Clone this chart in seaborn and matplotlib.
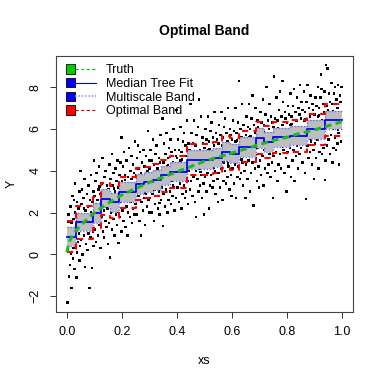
import matplotlib
matplotlib.use("Agg")
import matplotlib.pyplot as plt
from matplotlib.patches import Rectangle
from matplotlib.lines import Line2D
from matplotlib.legend_handler import HandlerBase
import seaborn as sns
import pandas as pd
import numpy as np

# step breakpoints of the tree fit and bands (on a 1/32 grid)
breaks = [0, 0.03125, 0.09375, 0.125, 0.15625, 0.1875, 0.25, 0.28125, 0.3125, 0.34375,
          0.375, 0.4375, 0.53125, 0.5625, 0.59375, 0.625, 0.6875, 0.71875, 0.75, 0.8125,
          0.875, 0.9375, 1.0]
median_fit = [0.83, 1.53, 2.0, 2.66, 2.49, 2.98, 3.36, 3.45, 3.57, 3.78, 3.95, 4.53, 4.63,
              4.9, 4.8, 5.15, 5.58, 5.38, 5.6, 5.68, 5.98, 6.42]
multi_lo = [0.4, 1.1, 1.5, 2.25, 2.05, 2.5, 2.88, 2.98, 3.1, 3.3, 3.5, 4.1, 4.18, 4.45,
            4.35, 4.68, 5.1, 4.92, 5.15, 5.22, 5.5, 5.98]
multi_hi = [1.3, 1.98, 2.47, 3.15, 2.95, 3.45, 3.85, 3.93, 4.05, 4.25, 4.42, 5.0, 5.1, 5.37,
            5.27, 5.62, 6.05, 5.85, 6.07, 6.15, 6.45, 6.88]
opt_lo = [0.1, 0.75, 1.25, 1.9, 1.75, 2.2, 2.6, 2.7, 2.8, 3.0, 3.2, 3.78, 3.9, 4.15, 4.05,
          4.4, 4.82, 4.62, 4.85, 4.92, 5.22, 5.68]
opt_hi = [1.58, 2.3, 2.75, 3.42, 3.25, 3.72, 4.12, 4.2, 4.32, 4.53, 4.7, 5.28, 5.38, 5.65,
          5.55, 5.9, 6.33, 6.13, 6.35, 6.42, 6.72, 7.2]

# truth curve read at a few x positions
truth_x = [0, 0.005, 0.01, 0.02, 0.03, 0.05, 0.075, 0.1, 0.15, 0.2, 0.25, 0.3, 0.35, 0.4,
           0.45, 0.5, 0.55, 0.6, 0.65, 0.7, 0.75, 0.8, 0.85, 0.9, 0.95, 1.0]
truth_y = [0.1, 0.45, 0.65, 0.9, 1.1, 1.4, 1.7, 2.0, 2.45, 2.85, 3.15, 3.45, 3.7, 3.95,
           4.2, 4.45, 4.65, 4.85, 5.05, 5.25, 5.45, 5.6, 5.8, 5.95, 6.15, 6.35]

sample_points = [
    (0.002,-2.3),(0.004,0.2),(0.006,1.9),(0.008,-1.05),(0.010,1.2),(0.011,-0.5),(0.013,2.3),(0.014,0.6),
    (0.016,-1.6),(0.017,1.5),(0.019,0.9),(0.020,2.8),(0.021,-0.2),(0.023,1.7),(0.024,0.3),(0.026,1.1),
    (0.027,-0.7),(0.029,2.0),(0.030,3.4),(0.031,0.8),(0.033,1.4),(0.034,-1.1),(0.036,2.5),(0.037,0.1),
    (0.039,1.8),(0.040,0.6),(0.042,2.2),(0.043,1.0),(0.045,-0.3),(0.046,3.0),(0.047,1.3),(0.048,0.4),
    (0.049,4.0),(0.005,1.55),(0.015,0.05),(0.025,2.6),(0.035,1.15),(0.044,1.6),
    (0.051,0.7),(0.052,2.4),(0.054,1.2),(0.055,3.1),(0.057,0.0),(0.058,1.9),(0.060,2.7),(0.061,0.9),
    (0.063,1.5),(0.064,3.6),(0.066,-0.6),(0.067,2.1),(0.069,1.3),(0.070,0.5),(0.072,2.9),(0.073,1.8),
    (0.075,0.2),(0.076,2.3),(0.078,3.3),(0.079,1.0),(0.081,1.6),(0.082,-1.6),(0.084,2.6),(0.085,0.8),
    (0.087,2.0),(0.088,3.8),(0.090,1.4),(0.091,-0.65),(0.093,2.5),(0.094,1.1),(0.096,3.0),(0.097,0.4),
    (0.099,4.5),(0.098,1.9),(0.062,2.2),(0.086,1.7),
    (0.101,2.8),(0.102,1.2),(0.104,3.5),(0.105,0.6),(0.107,2.2),(0.108,3.9),(0.110,1.7),(0.111,2.6),
    (0.113,0.9),(0.114,3.1),(0.116,2.0),(0.117,4.2),(0.119,1.4),(0.120,2.9),(0.122,0.3),(0.123,2.4),
    (0.125,3.4),(0.126,1.8),(0.128,2.7),(0.129,4.6),(0.131,1.1),(0.132,3.0),(0.134,2.1),(0.135,0.8),
    (0.137,3.7),(0.138,2.5),(0.140,1.6),(0.141,4.0),(0.143,2.9),(0.144,1.3),(0.146,3.3),(0.147,2.2),
    (0.149,0.5),(0.148,2.65),(0.118,3.25),
    (0.151,3.1),(0.152,1.5),(0.154,4.3),(0.155,2.4),(0.157,-0.15),(0.158,3.6),(0.160,2.0),(0.161,2.9),
    (0.163,1.2),(0.164,4.8),(0.166,3.3),(0.167,2.2),(0.169,1.7),(0.170,3.9),(0.172,2.6),(0.173,0.9),
    (0.175,3.0),(0.176,4.1),(0.178,1.9),(0.179,2.7),(0.181,3.5),(0.182,1.4),(0.184,4.5),(0.185,2.3),
    (0.187,3.2),(0.188,0.55),(0.190,2.8),(0.191,3.8),(0.193,1.8),(0.194,4.4),(0.196,2.5),(0.197,3.4),
    (0.199,5.6),(0.198,1.1),(0.171,3.15),(0.186,2.05),
    (0.201,3.5),(0.202,2.1),(0.204,4.2),(0.205,1.6),(0.207,3.0),(0.208,4.9),(0.210,2.6),(0.211,3.8),
    (0.213,1.3),(0.214,2.9),(0.216,4.5),(0.217,2.3),(0.219,3.4),(0.220,0.9),(0.222,3.7),(0.223,2.0),
    (0.225,5.1),(0.226,2.7),(0.228,3.2),(0.229,1.8),(0.231,4.0),(0.232,2.5),(0.234,3.6),(0.235,4.7),
    (0.237,1.5),(0.238,3.1),(0.240,2.2),(0.241,4.3),(0.243,2.8),(0.244,3.9),(0.246,1.9),(0.247,5.4),
    (0.249,3.3),(0.248,2.4),(0.212,3.55),(0.236,2.95),
    (0.251,3.8),(0.252,2.4),(0.254,4.6),(0.255,1.9),(0.257,3.3),(0.258,5.2),(0.260,2.8),(0.261,4.1),
    (0.263,3.6),(0.264,1.6),(0.266,4.9),(0.267,3.0),(0.269,0.9),(0.270,3.9),(0.272,2.5),(0.273,4.4),
    (0.275,3.2),(0.276,2.1),(0.278,5.0),(0.279,3.5),(0.281,2.7),(0.282,4.2),(0.284,1.4),(0.285,3.7),
    (0.287,2.9),(0.288,4.7),(0.290,3.1),(0.291,2.3),(0.293,4.0),(0.294,5.9),(0.296,2.6),(0.297,3.4),
    (0.299,4.5),(0.298,2.0),(0.268,3.45),(0.283,2.95),
    (0.301,4.1),(0.302,2.7),(0.304,5.0),(0.305,3.3),(0.307,2.0),(0.308,4.5),(0.310,3.6),(0.311,2.9),
    (0.313,5.5),(0.314,3.9),(0.316,1.6),(0.317,4.3),(0.319,3.1),(0.320,2.4),(0.322,4.8),(0.323,3.7),
    (0.325,2.8),(0.326,5.2),(0.328,3.4),(0.329,4.1),(0.331,2.2),(0.332,3.9),(0.334,4.6),(0.335,3.0),
    (0.337,1.9),(0.338,4.4),(0.340,3.5),(0.341,5.7),(0.343,2.6),(0.344,4.0),(0.346,3.2),(0.347,6.5),
    (0.349,1.35),(0.348,3.8),(0.318,3.55),(0.336,2.45),
    (0.351,4.4),(0.352,2.9),(0.354,5.3),(0.355,3.6),(0.357,2.3),(0.358,4.8),(0.360,3.9),(0.361,3.1),
    (0.363,5.8),(0.364,4.2),(0.366,2.0),(0.367,4.6),(0.369,3.4),(0.370,2.6),(0.372,5.1),(0.373,3.8),
    (0.375,3.0),(0.376,5.5),(0.378,4.1),(0.379,2.4),(0.381,4.9),(0.382,3.5),(0.384,2.8),(0.385,4.4),
    (0.387,6.0),(0.388,3.2),(0.390,4.0),(0.391,2.1),(0.393,5.0),(0.394,3.7),(0.396,4.7),(0.397,2.7),
    (0.399,6.9),(0.398,3.95),(0.368,4.25),(0.386,3.3),
    (0.401,4.6),(0.402,3.2),(0.404,5.5),(0.405,3.9),(0.407,2.5),(0.408,5.0),(0.410,4.2),(0.411,3.4),
    (0.413,6.1),(0.414,4.5),(0.416,2.2),(0.417,4.9),(0.419,3.7),(0.420,2.9),(0.422,5.4),(0.423,4.1),
    (0.425,3.3),(0.426,5.8),(0.428,4.3),(0.429,2.7),(0.431,5.2),(0.432,3.8),(0.434,3.0),(0.435,4.7),
    (0.437,6.4),(0.438,3.5),(0.440,4.4),(0.441,2.4),(0.443,5.3),(0.444,4.0),(0.446,5.0),(0.447,3.1),
    (0.449,7.2),(0.448,4.25),(0.418,4.55),(0.436,3.6),
    (0.451,4.9),(0.452,3.5),(0.454,5.8),(0.455,4.2),(0.457,2.8),(0.458,5.3),(0.460,4.5),(0.461,3.7),
    (0.463,6.4),(0.464,4.8),(0.466,2.5),(0.467,5.2),(0.469,4.0),(0.470,1.8),(0.472,5.7),(0.473,4.4),
    (0.475,3.6),(0.476,6.1),(0.478,4.6),(0.479,3.0),(0.481,7.4),(0.482,4.1),(0.484,3.3),(0.485,5.0),
    (0.487,6.6),(0.488,3.8),(0.490,4.7),(0.491,2.7),(0.493,5.6),(0.494,4.3),(0.496,5.3),(0.497,3.4),
    (0.499,1.9),(0.498,4.55),(0.468,4.85),(0.486,3.95),
    (0.501,5.1),(0.502,3.7),(0.504,6.0),(0.505,4.4),(0.507,3.0),(0.508,5.5),(0.510,4.7),(0.511,3.9),
    (0.513,6.6),(0.514,5.0),(0.516,2.2),(0.517,5.4),(0.519,4.2),(0.520,3.3),(0.522,5.9),(0.523,4.6),
    (0.525,3.8),(0.526,6.3),(0.528,4.8),(0.529,3.2),(0.531,5.6),(0.532,4.3),(0.534,3.5),(0.535,5.2),
    (0.537,6.8),(0.538,4.0),(0.540,4.9),(0.541,2.9),(0.543,5.8),(0.544,4.5),(0.546,5.5),(0.547,3.6),
    (0.549,2.5),(0.548,4.75),(0.518,5.05),(0.536,4.15),
    (0.551,5.3),(0.552,3.9),(0.554,6.2),(0.555,4.6),(0.557,3.2),(0.558,5.7),(0.560,4.9),(0.561,4.1),
    (0.563,6.8),(0.564,5.2),(0.566,2.6),(0.567,5.6),(0.569,4.4),(0.570,3.5),(0.572,6.1),(0.573,4.8),
    (0.575,4.0),(0.576,6.5),(0.578,5.0),(0.579,3.4),(0.581,5.8),(0.582,4.5),(0.584,3.7),(0.585,5.4),
    (0.587,7.0),(0.588,4.2),(0.590,5.1),(0.591,3.1),(0.593,6.0),(0.594,4.7),(0.596,5.7),(0.597,3.8),
    (0.599,2.8),(0.598,4.95),(0.568,5.25),(0.586,4.35),
    (0.601,5.5),(0.602,4.1),(0.604,6.4),(0.605,4.8),(0.607,3.4),(0.608,5.9),(0.610,5.1),(0.611,4.3),
    (0.613,7.0),(0.614,5.4),(0.616,2.7),(0.617,5.8),(0.619,4.6),(0.620,3.7),(0.622,6.3),(0.623,5.0),
    (0.625,4.2),(0.626,8.3),(0.628,5.2),(0.629,3.6),(0.631,6.0),(0.632,4.7),(0.634,3.9),(0.635,5.6),
    (0.637,7.2),(0.638,4.4),(0.640,5.3),(0.641,3.3),(0.643,6.2),(0.644,4.9),(0.646,5.9),(0.647,4.0),
    (0.649,2.7),(0.648,5.15),(0.618,5.45),(0.636,4.55),
    (0.651,5.7),(0.652,4.3),(0.654,6.6),(0.655,5.0),(0.657,3.6),(0.658,6.1),(0.660,5.3),(0.661,4.5),
    (0.663,7.2),(0.664,5.6),(0.666,3.0),(0.667,6.0),(0.669,4.8),(0.670,3.9),(0.672,6.5),(0.673,5.2),
    (0.675,4.4),(0.676,7.6),(0.678,5.4),(0.679,2.35),(0.681,6.2),(0.682,4.9),(0.684,4.1),(0.685,5.8),
    (0.687,7.0),(0.688,4.6),(0.690,5.5),(0.691,3.5),(0.693,6.4),(0.694,5.1),(0.696,6.1),(0.697,4.2),
    (0.699,3.2),(0.698,5.35),(0.668,5.65),(0.686,4.75),
    (0.701,5.9),(0.702,4.5),(0.704,6.8),(0.705,5.2),(0.707,3.8),(0.708,6.3),(0.710,5.5),(0.711,4.7),
    (0.713,7.4),(0.714,5.8),(0.716,3.3),(0.717,6.2),(0.719,5.0),(0.720,4.1),(0.722,6.7),(0.723,5.4),
    (0.725,4.6),(0.726,8.0),(0.728,5.6),(0.729,3.9),(0.731,6.4),(0.732,5.1),(0.734,4.3),(0.735,6.0),
    (0.737,7.2),(0.738,4.8),(0.740,5.7),(0.741,3.7),(0.743,6.6),(0.744,5.3),(0.746,6.3),(0.747,4.4),
    (0.749,2.7),(0.748,5.55),(0.718,5.85),(0.736,4.95),
    (0.751,6.1),(0.752,4.7),(0.754,8.5),(0.755,5.4),(0.757,4.0),(0.758,6.5),(0.760,5.7),(0.761,4.9),
    (0.763,7.5),(0.764,6.0),(0.766,3.5),(0.767,6.4),(0.769,5.2),(0.770,4.3),(0.772,6.9),(0.773,5.6),
    (0.775,4.8),(0.776,7.8),(0.778,5.8),(0.779,4.1),(0.781,6.6),(0.782,5.3),(0.784,8.3),(0.785,6.2),
    (0.787,7.3),(0.788,5.0),(0.790,5.9),(0.791,3.9),(0.793,6.8),(0.794,5.5),(0.796,6.5),(0.797,4.6),
    (0.799,3.0),(0.798,5.75),(0.768,6.05),(0.786,5.15),
    (0.801,6.3),(0.802,4.9),(0.804,7.1),(0.805,5.6),(0.807,4.2),(0.808,6.7),(0.810,5.9),(0.811,5.1),
    (0.813,7.7),(0.814,6.2),(0.816,3.7),(0.817,6.6),(0.819,5.4),(0.820,4.5),(0.822,7.1),(0.823,5.8),
    (0.825,5.0),(0.826,7.9),(0.828,6.0),(0.829,3.5),(0.831,6.8),(0.832,5.5),(0.834,4.7),(0.835,6.4),
    (0.837,7.5),(0.838,5.2),(0.840,6.1),(0.841,4.1),(0.843,7.0),(0.844,5.7),(0.846,6.7),(0.847,4.8),
    (0.849,8.1),(0.848,5.95),(0.818,6.25),(0.836,5.35),
    (0.851,6.5),(0.852,5.1),(0.854,7.3),(0.855,5.8),(0.857,4.4),(0.858,6.9),(0.860,6.1),(0.861,5.3),
    (0.863,7.8),(0.864,6.4),(0.866,3.9),(0.867,6.8),(0.869,5.6),(0.870,2.65),(0.872,7.3),(0.873,6.0),
    (0.875,5.2),(0.876,8.1),(0.878,6.2),(0.879,4.6),(0.881,7.0),(0.882,5.7),(0.884,4.9),(0.885,6.6),
    (0.887,7.6),(0.888,5.4),(0.890,6.3),(0.891,4.3),(0.893,7.2),(0.894,5.9),(0.896,6.9),(0.897,5.0),
    (0.899,3.6),(0.898,6.15),(0.868,6.45),(0.886,5.55),
    (0.901,6.7),(0.902,5.3),(0.904,7.5),(0.905,6.0),(0.907,4.6),(0.908,7.1),(0.910,6.3),(0.911,5.5),
    (0.913,8.0),(0.914,6.6),(0.916,4.1),(0.917,7.0),(0.919,5.8),(0.920,4.9),(0.922,7.5),(0.923,6.2),
    (0.925,8.6),(0.926,7.9),(0.928,6.4),(0.929,4.8),(0.931,7.2),(0.932,5.9),(0.934,5.1),(0.935,6.8),
    (0.937,7.8),(0.938,5.6),(0.940,3.55),(0.941,4.5),(0.943,9.05),(0.944,6.1),(0.946,7.1),(0.947,5.2),
    (0.949,8.9),(0.948,6.35),(0.918,6.65),(0.936,5.75),
    (0.951,6.9),(0.952,5.5),(0.954,7.7),(0.955,6.2),(0.957,4.8),(0.958,7.3),(0.960,6.5),(0.961,5.7),
    (0.963,8.2),(0.964,6.8),(0.966,4.4),(0.967,7.2),(0.969,6.0),(0.970,5.1),(0.972,7.7),(0.973,6.4),
    (0.975,5.6),(0.976,8.0),(0.978,6.6),(0.979,5.0),(0.981,7.4),(0.982,6.1),(0.984,5.3),(0.985,7.0),
    (0.987,8.1),(0.988,5.8),(0.990,6.7),(0.991,4.3),(0.993,7.6),(0.994,6.3),(0.996,7.3),(0.997,5.4),
    (0.999,8.0),(0.998,6.55),(0.968,6.85),(0.986,5.95),
]

df = pd.DataFrame(sample_points, columns=["xs", "Y"])
steps = pd.DataFrame({"x": breaks,
                      "fit": median_fit + median_fit[-1:],
                      "mlo": multi_lo + multi_lo[-1:],
                      "mhi": multi_hi + multi_hi[-1:],
                      "olo": opt_lo + opt_lo[-1:],
                      "ohi": opt_hi + opt_hi[-1:]})
truth = pd.DataFrame({"x": truth_x, "y": truth_y})

plt.rcParams["font.family"] = ["Liberation Sans", "DejaVu Sans"]

fig = plt.figure(figsize=(3.82, 3.82), dpi=100)
ax = fig.add_axes([0.1466, 0.184, 0.7767, 0.6694])

sns.scatterplot(data=df, x="xs", y="Y", ax=ax, marker="s", s=3.2, color="black",
                edgecolor="none", linewidth=0, zorder=1)

# multiscale band
ax.fill_between(steps["x"], steps["mlo"], steps["mhi"], step="post", color="#bebebe",
                linewidth=0, zorder=2)
band_kw = dict(drawstyle="steps-post", estimator=None, sort=False, ax=ax, legend=False)
blue_dot = "#6b6bff"
sns.lineplot(data=steps, x="x", y="mlo", color=blue_dot, linewidth=1.0, dashes=(1, 1.2), zorder=3, **band_kw)
sns.lineplot(data=steps, x="x", y="mhi", color=blue_dot, linewidth=1.0, dashes=(1, 1.2), zorder=3, **band_kw)

# optimal band
sns.lineplot(data=steps, x="x", y="olo", color="red", linewidth=1.5, dashes=(3, 2.5), zorder=4, **band_kw)
sns.lineplot(data=steps, x="x", y="ohi", color="red", linewidth=1.5, dashes=(3, 2.5), zorder=4, **band_kw)

# median tree fit
sns.lineplot(data=steps, x="x", y="fit", color="blue", linewidth=1.3, zorder=5, **band_kw)

# truth
sns.lineplot(data=truth, x="x", y="y", color="#1fb81f", linewidth=2.2, dashes=(2.2, 1.4),
             estimator=None, sort=False, ax=ax, legend=False, zorder=6)

ax.set_xlim(-0.04, 1.04)
ax.set_ylim(-2.74, 9.49)
ax.set_xticks([0, 0.2, 0.4, 0.6, 0.8, 1.0])
ax.set_xticklabels(["0.0", "0.2", "0.4", "0.6", "0.8", "1.0"])
ax.set_yticks([-2, 0, 2, 4, 6, 8])
ax.set_yticklabels(["\u22122", "0", "2", "4", "6", "8"], rotation=90, va="center")
ax.tick_params(axis="both", length=4.3, width=0.7, labelsize=9, pad=6, color="#333333")
for sp in ax.spines.values():
    sp.set_linewidth(0.8)
    sp.set_color("#444444")

ax.set_xlabel("xs", fontsize=9, labelpad=12)
ax.set_ylabel("Y", fontsize=9, labelpad=9)
ax.set_title("Optimal Band", fontsize=10, fontweight="bold", pad=15)


class LegendKey:
    def __init__(self, box, **line_kw):
        self.box = box
        self.line_kw = line_kw


class BoxLineHandler(HandlerBase):
    def create_artists(self, legend, orig_handle, xdescent, ydescent, width, height, fontsize, trans):
        side = height * 1.05
        sq = Rectangle((-xdescent, -ydescent + (height - side) / 2), side, side,
                       facecolor=orig_handle.box, edgecolor="black", linewidth=0.6, transform=trans)
        ln = Line2D([-xdescent + side, -xdescent + width], [-ydescent + height / 2] * 2,
                    transform=trans, **orig_handle.line_kw)
        return [sq, ln]


keys = [LegendKey("#00cc00", color="#1fb81f", linewidth=0.8, dashes=(3, 2)),
        LegendKey("blue", color="blue", linewidth=0.8),
        LegendKey("blue", color="#9a9aff", linewidth=1.2, dashes=(1, 1)),
        LegendKey("red", color="red", linewidth=0.8, dashes=(3, 2))]
labels = ["Truth", "Median Tree Fit", "Multiscale Band", "Optimal Band"]
ax.legend(keys, labels, handler_map={LegendKey: BoxLineHandler()}, loc="upper left",
          bbox_to_anchor=(0.033, 0.967), frameon=False, fontsize=9, handlelength=2.4,
          handletextpad=0.8, labelspacing=0.13, borderpad=0, borderaxespad=0)

fig.savefig("out.png", dpi=100)
